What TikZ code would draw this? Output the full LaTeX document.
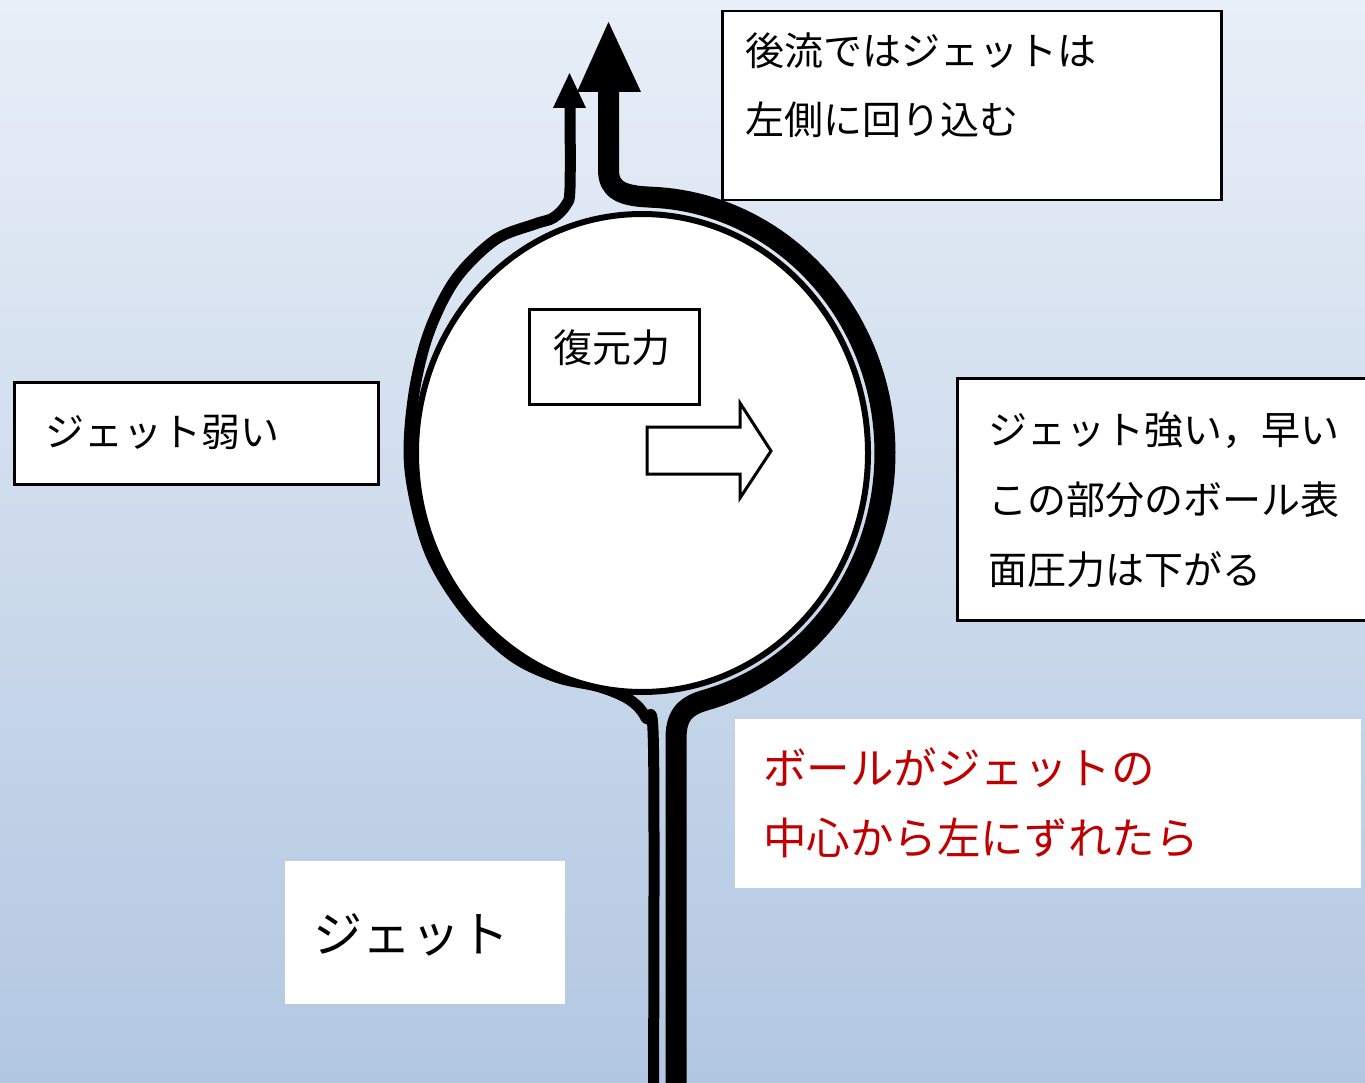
\documentclass[tikz,border=0pt]{standalone}
\usepackage{fontspec}
\newfontfamily\jp{Noto Sans CJK JP}
\definecolor{skytop}{HTML}{E9EFF8}
\definecolor{skybottom}{HTML}{B2C7E1}
\definecolor{warn}{HTML}{C00000}
\begin{document}
\begin{tikzpicture}[x=1pt,y=-1pt,
  framed/.style={draw=black, line width=2.5pt, fill=white, inner sep=0pt, anchor=north west},
  plainbox/.style={fill=white, inner sep=0pt, anchor=north west},
  lbl/.style={anchor=west, inner sep=0pt, font=\jp\fontsize{39}{47}\selectfont},
  redlbl/.style={lbl, text=warn, font=\jp\fontsize{43.5}{52}\selectfont},
  biglbl/.style={lbl, font=\jp\fontsize{49}{58}\selectfont},
  stream/.style={draw=black, line join=round, line cap=butt}]

\useasboundingbox (0,0) rectangle (1365,1083);
\clip (0,0) rectangle (1365,1083);

% sky background
\shade[top color=skytop, bottom color=skybottom] (0,0) rectangle (1365,1083);

% weak jet: thin stream passing round the left of the ball
\draw[stream, line width=11pt] plot[smooth, tension=0.55] coordinates {
  (653.5,1090) (653.5,748) (646,718) (630,700) (600,687) (556,677)
  (511,655) (465,610) (429,550) (410,470) (413,400) (428,335)
  (455,280) (495,240) (535,224) (553,218) (566,205) (570,188) (570,105)};
\fill (553,108) -- (586,108) -- (569.5,73) -- cycle;

% strong jet: thick stream passing round the right of the ball
\draw[stream, line width=21pt]
  (608.5,90) -- (608.5,170) .. controls (608.5,190) and (622,196) .. (650,197.1)
  -- plot[domain=-88.1:75, samples=90, variable=\t] ({642+243*cos(\t)}, {453+256*sin(\t)})
  .. controls (689,705) and (676,712) .. (676,738) -- (676,1090);
\fill (577,92) -- (641,92) -- (608.5,22) -- cycle;

% the ball
\draw[line width=6pt, fill=white] (642,453) ellipse [x radius=226pt, y radius=239pt];

% restoring force arrow
\draw[line width=3pt, fill=white, line join=miter]
  (647,427) -- (740,427) -- (740,403) -- (771,451) -- (740,498) -- (740,474) -- (647,474) -- cycle;

% text boxes
\node[framed, minimum width=499pt, minimum height=189pt] (wakebox) at (721,10) {};
\node[framed, minimum width=170pt, minimum height=95pt] (forcebox) at (528,308) {};
\node[framed, minimum width=364pt, minimum height=102pt] (weakbox) at (13,381) {};
\node[framed, minimum width=430pt, minimum height=242pt] (strongbox) at (956,377) {};
\node[plainbox, minimum width=626pt, minimum height=169pt] (shiftbox) at (735,719) {};
\node[plainbox, minimum width=280pt, minimum height=143pt] (jetbox) at (285,861) {};

\node[lbl] (wake1) at (745,50.5) {後流ではジェットは};
\node[lbl] (wake2) at (745,120) {左側に回り込む};
\node[lbl] (force) at (553,348) {復元力};
\node[lbl] (weak) at (45,432) {ジェット弱い};
\node[lbl] (strong1) at (988,430) {ジェット強い，早い};
\node[lbl] (strong2) at (988,500) {この部分のボール表};
\node[lbl] (strong3) at (988,570) {面圧力は下がる};
\node[redlbl] (shift1) at (763,768) {ボールがジェットの};
\node[redlbl] (shift2) at (763,838) {中心から左にずれたら};
\node[biglbl] (jet) at (313,935) {ジェット};

\end{tikzpicture}
\end{document}
